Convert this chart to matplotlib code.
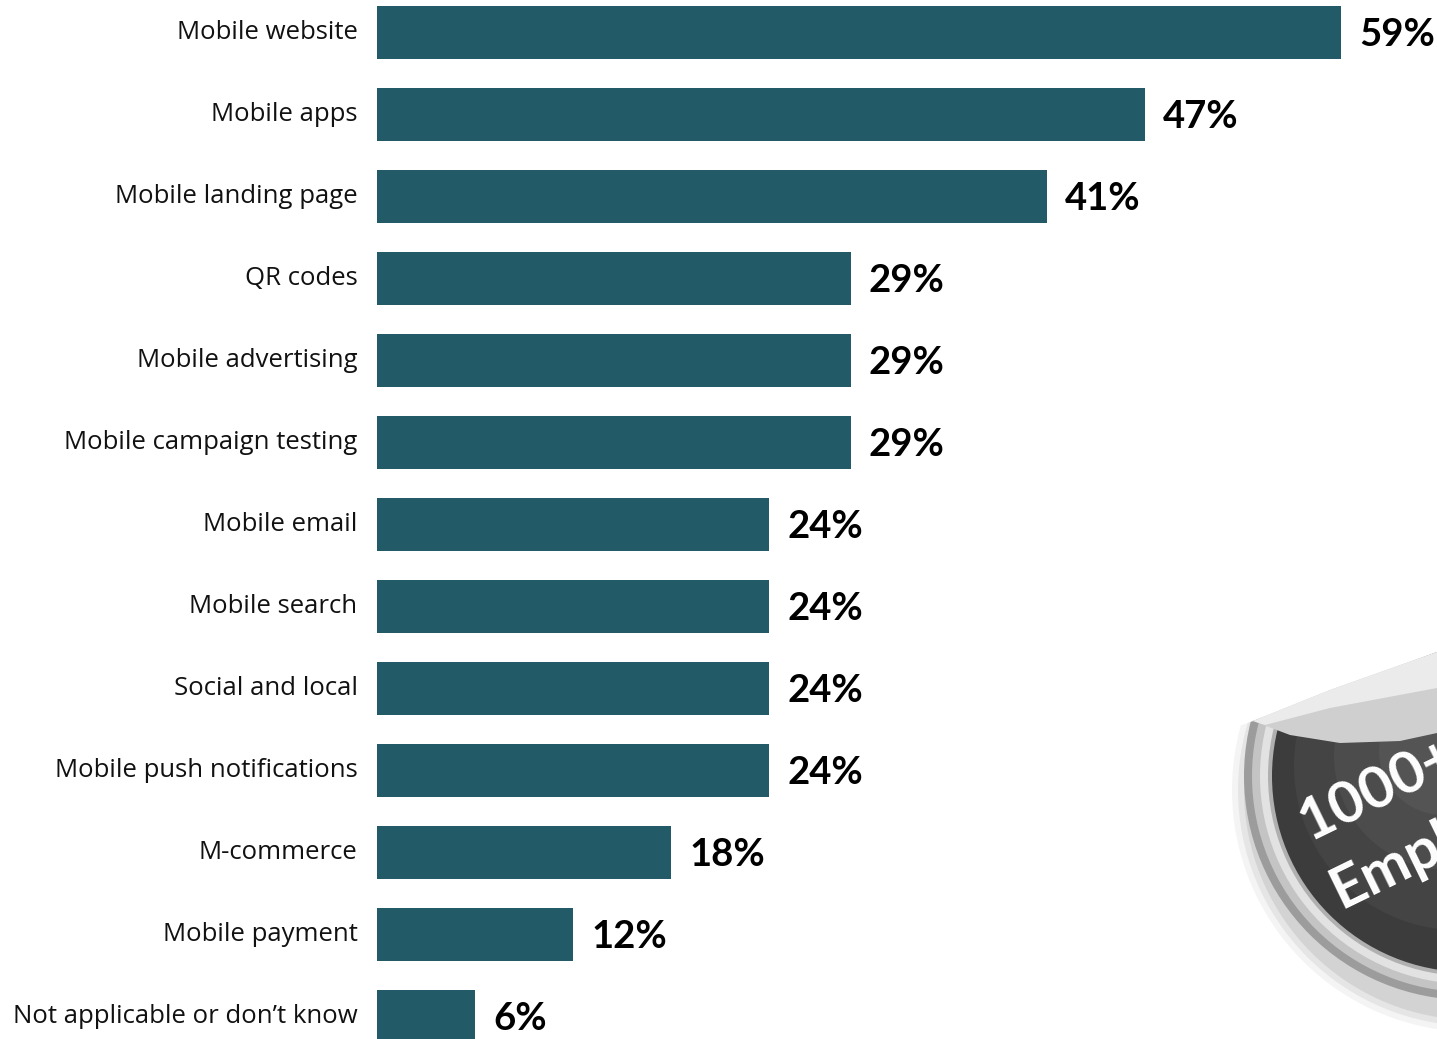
import matplotlib
matplotlib.use("Agg")
import matplotlib.pyplot as plt
from matplotlib.patches import Circle, Polygon

categories = ["Mobile website", "Mobile apps", "Mobile landing page", "QR codes",
              "Mobile advertising", "Mobile campaign testing", "Mobile email",
              "Mobile search", "Social and local", "Mobile push notifications",
              "M-commerce", "Mobile payment", "Not applicable or don\u2019t know"]
values = [59, 47, 41, 29, 29, 29, 24, 24, 24, 24, 18, 12, 6]
value_labels = [f"{v}%" for v in values]

W, H = 1437, 1039
fig = plt.figure(figsize=(W / 100, H / 100), dpi=100)
ax = fig.add_axes([377 / W, 0, 1 - 377 / W, 1])

color = "#235A68"
y = list(range(len(categories)))
ax.barh(y, values, height=0.635, color=color, zorder=2)
ax.set_xlim(0, (W - 377) / 16.34)
ax.set_ylim((H - 32.5) / 82, -32.5 / 82)
for s in ax.spines.values():
    s.set_visible(False)
ax.set_xticks([])
ax.set_yticks(y)
ax.set_yticklabels(categories, fontsize=18.5, family="Open Sans", color="#111111")
ax.tick_params(axis="y", length=0, pad=14)
for lab in ax.get_yticklabels():
    lab.set_verticalalignment("center")
for yi, v, t in zip(y, values, value_labels):
    ax.text(v + 1.1, yi + 0.03, t, va="center", ha="left", fontsize=27.5,
            fontweight="bold", family="Lato", color="#000000")

# decorative badge (bottom right, partially off-canvas)
bx = fig.add_axes([0, 0, 1, 1], zorder=5)
bx.set_xlim(0, W)
bx.set_ylim(H, 0)
bx.axis("off")
bx.patch.set_alpha(0)
cx, cy, r = 1468, 776, 224
for k, a in [(18, 0.08), (12, 0.12), (6, 0.16)]:
    bx.add_patch(Circle((cx + 6, cy + 14), r + k, color="#7a7a7a", alpha=a, lw=0))
bx.add_patch(Circle((cx, cy), r, color="#9c9c9c", lw=0))
bx.add_patch(Circle((cx, cy), r - 8, color="#c4c4c4", lw=0))
bx.add_patch(Circle((cx, cy), r - 16, color="#e2e2e2", lw=0))
bx.add_patch(Circle((cx, cy), r - 24, color="#b0b0b0", lw=0))
bx.add_patch(Circle((cx, cy), r - 28, color="#3c3c3c", lw=0))
bx.add_patch(Circle((cx - 10, cy - 10), r - 60, color="#444444", lw=0))
bx.add_patch(Circle((cx - 20, cy - 20), r - 110, color="#4c4c4c", lw=0))
bx.add_patch(Circle((cx - 25, cy - 25), r - 160, color="#545454", lw=0))
# peeled-off top: white area above the curl
bx.add_patch(Polygon([(1200, 740), (1253, 721), (1437, 652), (1437, 500), (1200, 500)],
                     closed=True, color="white", lw=0, zorder=3))
bx.add_patch(Polygon([(1253, 721), (1330, 690), (1437, 652), (1437, 733), (1400, 741),
                      (1340, 743), (1290, 735)], closed=True, color="#cfcfcf", lw=0, zorder=3))
bx.add_patch(Polygon([(1253, 721), (1330, 690), (1437, 652), (1437, 688), (1330, 708),
                      (1265, 725)], closed=True, color="#ebebeb", lw=0, zorder=3))
bx.text(1290, 850, "1000+", rotation=26, fontsize=42, fontweight="bold",
        family="Lato", color="white", ha="left", va="bottom", zorder=4)
bx.text(1322, 918, "Employees", rotation=26, fontsize=42, fontweight="bold",
        family="Lato", color="white", ha="left", va="bottom", zorder=4)

fig.savefig("out.png", dpi=100, facecolor="white")
